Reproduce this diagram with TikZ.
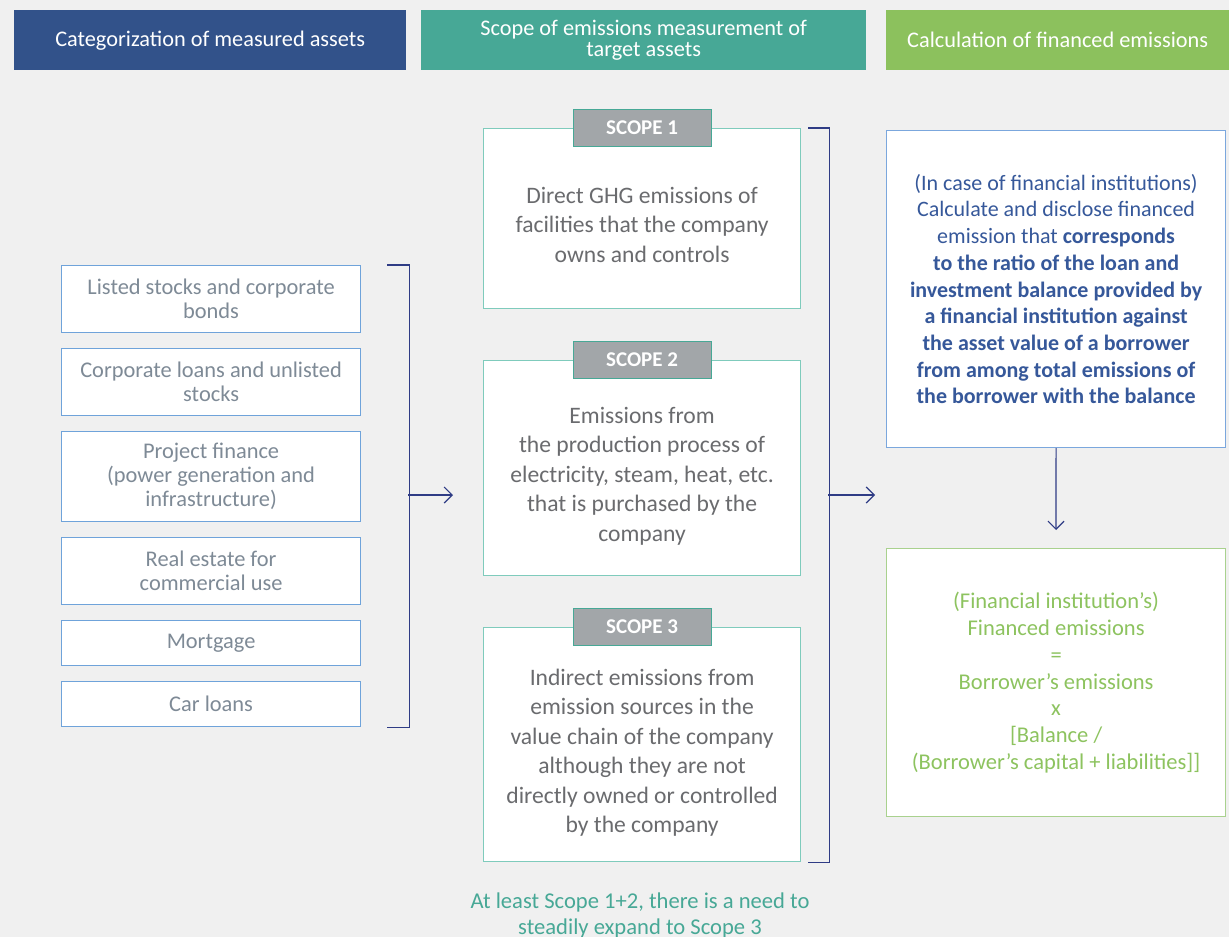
\documentclass[tikz,border=0pt]{standalone}
\usepackage{fontspec}
\setmainfont{Carlito}
\usetikzlibrary{arrows.meta}

\definecolor{bggray}{HTML}{F0F0F0}
\definecolor{hdblue}{HTML}{32528A}
\definecolor{hdteal}{HTML}{47A896}
\definecolor{hdgreen}{HTML}{8CC15D}
\definecolor{assetline}{HTML}{6FA3DA}
\definecolor{assettext}{HTML}{7E8A96}
\definecolor{scopeline}{HTML}{7FCBBC}
\definecolor{taggray}{HTML}{A2A6A9}
\definecolor{bodytext}{HTML}{6A6B6E}
\definecolor{calcline}{HTML}{7BA7DD}
\definecolor{calctext}{HTML}{36589A}
\definecolor{resline}{HTML}{A9D18E}
\definecolor{restext}{HTML}{8DC35F}
\definecolor{navy}{HTML}{2F3C85}

\tikzset{
  header/.style={text=white, minimum height=60pt, inner sep=0pt, align=center,
    anchor=north west, font=\fontsize{22.3}{21}\selectfont},
  asset/.style={draw=assetline, fill=white, line width=1.2pt, text=assettext,
    minimum width=299pt, inner sep=0pt, align=center, anchor=north west,
    font=\fontsize{22.4}{24}\selectfont},
  scopebox/.style={draw=scopeline, fill=white, line width=1.2pt,
    minimum width=317pt, inner sep=0pt, anchor=north west},
  scopetext/.style={text=bodytext, inner sep=0pt, align=center,
    font=\fontsize{23.6}{29.5}\selectfont},
  tag/.style={draw=hdteal, fill=taggray, line width=1.2pt, text=white,
    minimum width=138pt, minimum height=37pt, inner sep=0pt,
    font=\bfseries\fontsize{21}{22}\selectfont},
  calcbox/.style={fill=white, line width=1.2pt, minimum width=339pt, inner sep=0pt,
    align=center, anchor=north west},
  bracket/.style={draw=navy, line width=1.2pt},
  arr/.style={draw=navy, line width=1.2pt, -{Straight Barb[length=8pt,width=16pt]}}
}

\begin{document}
\begin{tikzpicture}[x=1pt,y=-1pt]

  \fill[bggray] (0,0) rectangle (1229,937);
  \useasboundingbox (0,0) rectangle (1229,937);

  \node[header, fill=hdblue, minimum width=392pt] (h1) at (14,10) {Categorization of measured assets};
  \node[header, fill=hdteal, minimum width=445pt] (h2) at (421,10) {Scope of emissions measurement of\\target assets};
  \node[header, fill=hdgreen, minimum width=343pt] (h3) at (886,10) {Calculation of financed emissions};

  \node[asset, minimum height=67pt] (a1) at (61,265) {Listed stocks and corporate\\bonds};
  \node[asset, minimum height=67pt] (a2) at (61,348) {Corporate loans and unlisted\\stocks};
  \node[asset, minimum height=90pt] (a3) at (61,431) {Project finance\\(power generation and\\infrastructure)};
  \node[asset, minimum height=67pt] (a4) at (61,537) {Real estate for\\commercial use};
  \node[asset, minimum height=45pt] (a5) at (61,620) {Mortgage};
  \node[asset, minimum height=45pt] (a6) at (61,681) {Car loans};

  \draw[bracket] ([xshift=26pt]a1.north east) -| ([xshift=48pt]a6.south east) -- ([xshift=26pt]a6.south east);
  \coordinate (m1) at (408,495);
  \coordinate (e1) at (453,495);
  \draw[arr] (m1) -- (e1);

  \node[scopebox, minimum height=180pt] (s1) at (483,128) {};
  \node[scopebox, minimum height=215pt] (s2) at (483,360) {};
  \node[scopebox, minimum height=234pt] (s3) at (483,627) {};
  \node[scopetext] (s1t) at ([yshift=-6pt]s1.center) {Direct GHG emissions of\\facilities that the company\\owns and controls};
  \node[scopetext] (s2t) at ([yshift=-8pt]s2.center) {Emissions from\\the production process of\\electricity, steam, heat, etc.\\that is purchased by the\\company};
  \node[scopetext] (s3t) at ([yshift=-8pt]s3.center) {Indirect emissions from\\emission sources in the\\value chain of the company\\although they are not\\directly owned or controlled\\by the company};
  \foreach \i in {1,2,3}
    \node[tag] (t\i) at (s\i.north) {SCOPE \i};

  \draw[bracket] ([xshift=7pt]s1.north east) -| ([xshift=28pt]s3.south east) -- ([xshift=7pt]s3.south east);
  \coordinate (m2) at (828,495);
  \coordinate (e2) at (875,495);
  \draw[arr] (m2) -- (e2);

  \node[calcbox, draw=calcline, text=calctext, minimum height=317pt,
    font=\fontsize{22}{26.7}\selectfont] (r1) at (886,130)
    {(In case of financial institutions)\\Calculate and disclose financed\\emission that \textbf{corresponds}\\
     \textbf{to the ratio of the loan and}\\\textbf{investment balance provided by}\\
     \textbf{a financial institution against}\\\textbf{the asset value of a borrower}\\
     \textbf{from among total emissions of}\\\textbf{the borrower with the balance}};
  \node[calcbox, draw=resline, text=restext, minimum height=268pt,
    font=\fontsize{22.5}{26.7}\selectfont] (r2) at (886,548)
    {(Financial institution’s)\\Financed emissions\\=\\Borrower’s emissions\\x\\{}[Balance /\\(Borrower’s capital + liabilities]]};

  \coordinate (e3) at (1056,530);
  \draw[arr] (r1.south) -- (e3);

  \node[text=hdteal, align=center, font=\fontsize{22.6}{26}\selectfont] (n1) at (640,915)
    {At least Scope 1+2, there is a need to\\steadily expand to Scope 3};

\end{tikzpicture}
\end{document}
